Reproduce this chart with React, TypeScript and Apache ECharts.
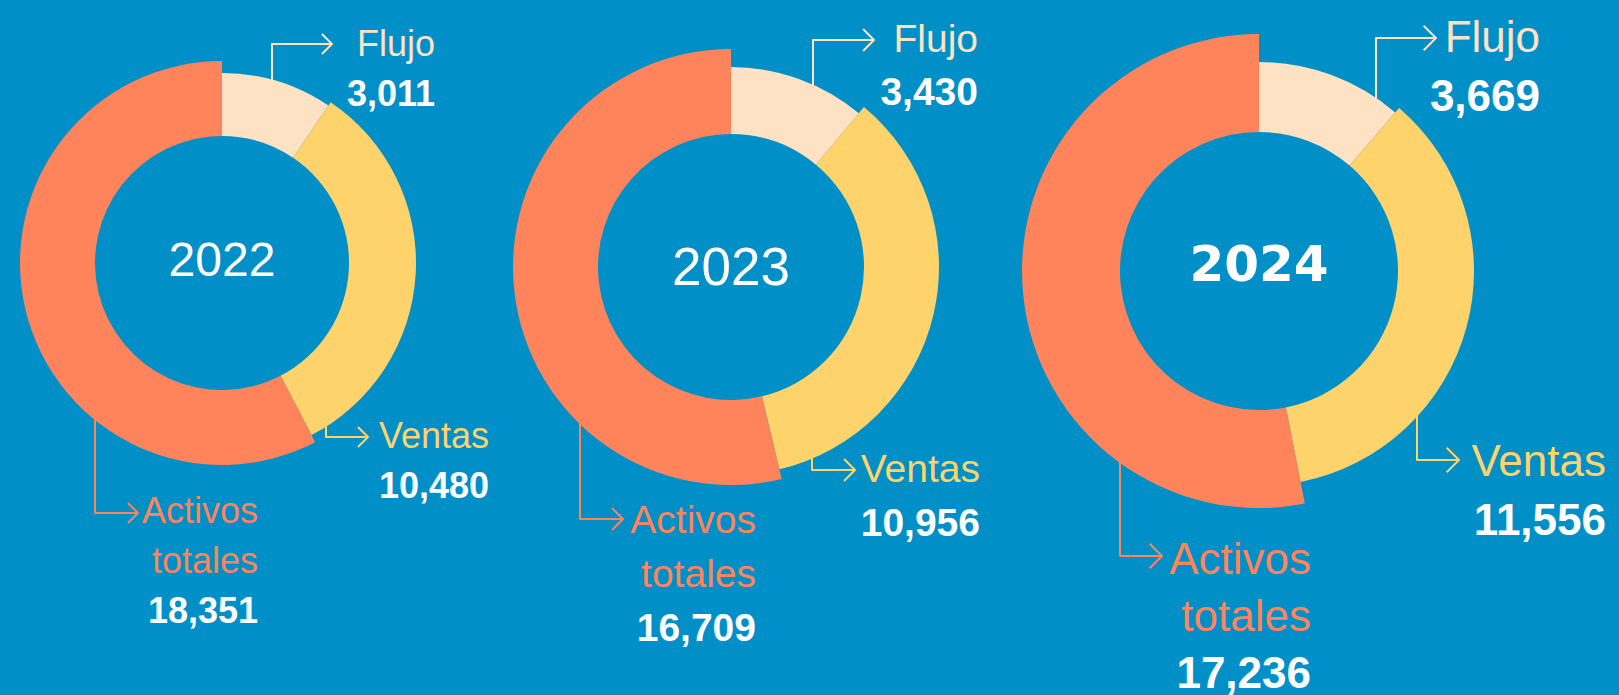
import React, { useEffect, useRef } from "react";
import * as echarts from "echarts";

const years = ["2022", "2023", "2024"];
const categories = ["Flujo", "Ventas", "Activos totales"];
const flujo = [3011, 3430, 3669];
const ventas = [10480, 10956, 11556];
const activos = [18351, 16709, 17236];

const BG = "#008FC7";
const COLORS = ["#FFE1C3", "#FFD36B", "#FF845B"];
const FONT = '"Liberation Sans", Arial, sans-serif';

type Lbl = { vx: number; elbowY: number; tipX: number; textX: number; textY: number; lh: number };
type Layout = {
  cx: number; cy: number; rIn: number; rOut: number[]; font: number;
  yearFont: number; yearY: number; yearBold: boolean; labels: Lbl[];
};

const layouts: Layout[] = [
  {
    cx: 222, cy: 263, rIn: 127, rOut: [190, 194, 202], font: 36, yearFont: 48, yearY: 259, yearBold: false,
    labels: [
      { vx: 272, elbowY: 44, tipX: 332, textX: 435, textY: 43, lh: 50 },
      { vx: 326, elbowY: 437, tipX: 368, textX: 489, textY: 435, lh: 50 },
      { vx: 95, elbowY: 513, tipX: 138, textX: 258, textY: 510, lh: 50 },
    ],
  },
  {
    cx: 731, cy: 267, rIn: 133, rOut: [200, 208, 218], font: 39, yearFont: 53, yearY: 266, yearBold: false,
    labels: [
      { vx: 813, elbowY: 40, tipX: 874, textX: 978, textY: 38, lh: 53 },
      { vx: 812, elbowY: 470, tipX: 855, textX: 980, textY: 468, lh: 54 },
      { vx: 580, elbowY: 519, tipX: 623, textX: 756, textY: 519, lh: 54 },
    ],
  },
  {
    cx: 1259, cy: 271, rIn: 139, rOut: [209, 215, 237], font: 44, yearFont: 50, yearY: 264, yearBold: true,
    labels: [
      { vx: 1376, elbowY: 38, tipX: 1436, textX: 1540, textY: 36, lh: 59 },
      { vx: 1417, elbowY: 460, tipX: 1459, textX: 1606, textY: 460, lh: 59 },
      { vx: 1120, elbowY: 556, tipX: 1162, textX: 1311, textY: 558, lh: 57 },
    ],
  },
];

const fmt = (v: number) => v.toLocaleString("en-US");

export default function App() {
  const ref = useRef<HTMLDivElement>(null);
  useEffect(() => {
    if (!ref.current) return;
    const chart = echarts.init(ref.current, undefined, { renderer: "svg" });
    const series: any[] = [];
    const graphic: any[] = [];
    years.forEach((year, yi) => {
      const L = layouts[yi];
      const vals = [flujo[yi], ventas[yi], activos[yi]];
      for (let k = 0; k < 3; k++) {
        series.push({
          type: "pie",
          center: [L.cx, L.cy],
          radius: [L.rIn, L.rOut[k]],
          startAngle: 90,
          clockwise: true,
          silent: true,
          label: { show: false },
          labelLine: { show: false },
          emphasis: { disabled: true },
          itemStyle: { borderWidth: 0 },
          data: vals.map((v, i) => ({
            name: categories[i],
            value: v,
            itemStyle: { color: i === k ? COLORS[k] : "rgba(0,0,0,0)", borderWidth: 0 },
          })),
        });
      }
      graphic.push({
        type: "text",
        x: L.cx,
        y: L.yearY,
        style: {
          text: year,
          fill: "#FFFFFF",
          font: L.yearBold ? `bold ${L.yearFont}px "DejaVu Sans", sans-serif` : `${L.yearFont}px ${FONT}`,
          align: "center",
          verticalAlign: "middle",
        },
      });
      for (let k = 0; k < 3; k++) {
        const lb = L.labels[k];
        const dx = lb.vx - L.cx;
        const r = L.rOut[k];
        const h = Math.sqrt(Math.max(r * r - dx * dx, 0));
        const startY = k === 0 ? L.cy - h + 5 : L.cy + h - 5;
        const color = COLORS[k];
        graphic.push({
          type: "polyline",
          shape: { points: [[lb.vx, startY], [lb.vx, lb.elbowY], [lb.tipX, lb.elbowY]] },
          style: { stroke: color, lineWidth: 2, fill: null, lineJoin: "round" },
        });
        const ah = L.font * 0.28;
        graphic.push({
          type: "polyline",
          shape: { points: [[lb.tipX - ah, lb.elbowY - ah], [lb.tipX, lb.elbowY], [lb.tipX - ah, lb.elbowY + ah]] },
          style: { stroke: color, lineWidth: 2, fill: null },
        });
        const nameLines = k === 2 ? ["Activos", "totales"] : [categories[k]];
        nameLines.forEach((t, li) => {
          graphic.push({
            type: "text",
            x: lb.textX,
            y: lb.textY + li * lb.lh,
            style: { text: t, fill: color, font: `${L.font}px ${FONT}`, align: "right", verticalAlign: "middle" },
          });
        });
        graphic.push({
          type: "text",
          x: lb.textX,
          y: lb.textY + nameLines.length * lb.lh,
          style: { text: fmt(vals[k]), fill: "#FFFFFF", font: `bold ${L.font}px ${FONT}`, align: "right", verticalAlign: "middle" },
        });
      }
    });
    chart.setOption({
      animation: false,
      backgroundColor: BG,
      series,
      graphic,
    });
    return () => chart.dispose();
  }, []);
  return (
    <div
      ref={ref}
      style={{ position: "fixed", left: 0, top: 0, width: 1619, height: 695 }}
    />
  );
}
